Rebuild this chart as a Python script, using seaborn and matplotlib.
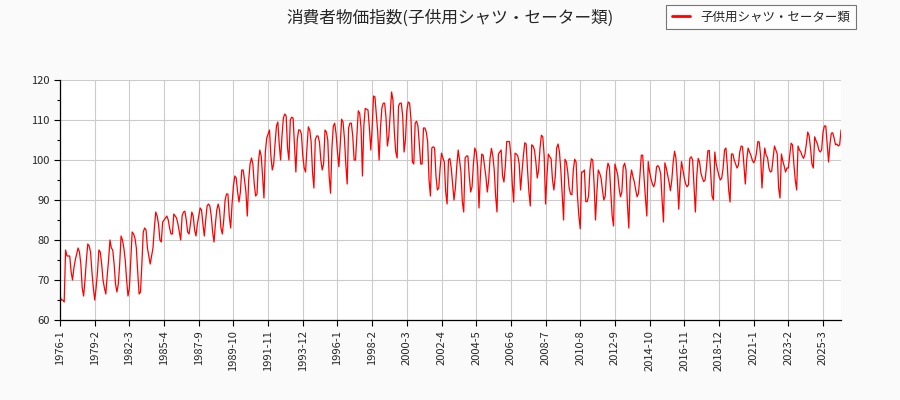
import numpy as np
import pandas as pd
import matplotlib
matplotlib.use("Agg")
import matplotlib.pyplot as plt
from matplotlib.ticker import MultipleLocator
import seaborn as sns

# values, by era (one value per data point)
vals_1976_1987 = [
    66, 65, 65, 64.5, 77.5, 76, 76, 76, 72, 70,
    73, 75, 76.5, 78, 77, 74, 68, 66, 70, 75,
    79, 78.5, 77, 72, 68, 65, 68, 72, 77.5, 77,
    74, 70, 68, 66.5, 71, 75, 80, 78, 77.5, 74,
    69, 67, 69, 74, 81, 80, 78, 75, 70, 66,
    68, 75, 82, 81.5, 80.5, 78, 72, 66.5, 67, 74,
    82, 83, 82.5, 78, 76, 74, 76, 78, 83, 87,
    86, 84, 80, 79.5, 84.5, 85, 85.5, 86, 85, 83,
    81.5, 81.5, 86.5, 86, 85.5, 84, 82, 80, 86, 87,
    87.2, 85, 82, 81.5, 84, 87, 86, 82.5, 81, 84,
]
vals_1987_1996 = [
    86, 88, 87.5, 84, 81, 85, 88.5, 89, 88.5, 86,
    82, 79.5, 84, 87.5, 89, 87.5, 83, 81.5, 85, 90,
    91.5, 91.5, 86, 83, 89, 93.5, 96, 95.5, 92, 89.5,
    92, 97.5, 97.5, 95, 92, 86, 95, 99, 100.5, 99,
    94, 91, 91.5, 99.5, 102.5, 101, 96, 90.5, 102, 105.5,
    106.5, 107.5, 101, 97.5, 99, 104, 108.5, 109.5, 104, 100,
    106, 110.5, 111.5, 111, 103, 100, 110, 110.7, 110.5, 104,
    97, 105, 107.5, 107.5, 106.5, 101, 98, 97, 103, 108.3,
    107.5, 104.6, 97, 93, 105, 106, 106, 104.5, 100, 97.5,
    99, 107.5, 107, 105, 96, 91.7, 103, 108.5, 109.2, 106.5,
]
vals_1996_2004 = [
    102, 98.3, 104, 110.2, 109.5, 105.5, 99, 94, 108, 109.2,
    109.2, 106, 100, 100, 106, 112.3, 111.7, 108, 96, 108.5,
    112.9, 112.7, 112.5, 108, 102.5, 108, 116, 115.8, 111.3, 107,
    100, 108, 113, 114.2, 114.2, 110.5, 103.5, 106, 111.7, 117,
    115, 107, 102, 100.5, 113.5, 114.2, 114.2, 111, 102, 105,
    112.5, 114.5, 114.2, 110, 99.5, 99, 109.2, 109.7, 108.5, 104,
    99, 99, 108, 108, 107, 104.6, 95, 91, 103, 103.3,
    103, 96, 92.5, 93, 98, 101.7, 100.5, 99.5, 92, 89,
    100, 100.4, 98, 94, 90, 93, 98.5, 102.5, 100, 97,
    89.6, 87, 100.5, 101, 101, 96, 92, 93.3, 99, 103,
]
vals_2004_2012 = [
    102, 98.5, 88, 96, 101.5, 101.2, 98.5, 95.8, 92, 95,
    100.5, 102.9, 101, 97.5, 91, 87, 101.5, 102, 102.5, 96,
    94.5, 98.5, 104.6, 104.6, 104.6, 101, 94, 89.5, 101.7, 101.5,
    101, 99, 92.5, 97, 101, 104.3, 104, 97.5, 92, 88.5,
    103.8, 103.5, 102.5, 99.5, 95.5, 97.5, 103, 106.2, 105.8, 101,
    89, 96, 101.5, 100.8, 100.3, 95, 92.5, 96, 103, 104,
    102, 97.5, 91, 85, 100.2, 99.5, 97, 93, 91.5, 91.3,
    97.5, 100.2, 99.5, 91, 86, 82.8, 97, 97, 97.5, 89.6,
    89.6, 91, 97.5, 100.3, 100, 94, 85, 92, 97.5, 96.7,
    95.5, 92.5, 90, 91, 97, 99.2, 98.3, 92, 86, 83.5,
]
vals_2012_2021 = [
    99, 97.7, 96.3, 93, 90.8, 92, 98.3, 99.2, 97.5, 89,
    83, 95, 97.5, 95.8, 94.5, 92.5, 90.8, 91.7, 96, 101.2,
    101.2, 95.5, 90.5, 86, 99.6, 97, 95.3, 94, 93.3, 94.6,
    98.3, 98.6, 98, 96.5, 90, 84.5, 99.3, 98, 96.2, 94.5,
    92.3, 95, 99.5, 102.2, 100.4, 95, 87.7, 95, 99.6, 97.5,
    95.5, 94, 93.3, 93.8, 100.4, 100.8, 100, 93.3, 87, 96,
    100.4, 99.5, 96.7, 95.5, 94.6, 95, 98.3, 102.3, 102.4, 97,
    91, 90, 102, 99, 97.5, 96, 95, 95.5, 98, 102.5,
    103, 98.5, 92.5, 89.5, 101.5, 101.5, 100, 99, 98, 98.7,
    102, 103.5, 103.3, 98.7, 94, 100, 103, 102, 101.2, 100,
]
vals_2021_2026 = [
    99.3, 100, 101.7, 104.6, 104.5, 101.2, 93, 99, 103, 101.2,
    100.6, 98, 97, 97.2, 100.4, 103.5, 102.5, 101.5, 93, 90.5,
    101.5, 99.8, 98.5, 97, 98, 98, 101, 104.2, 103.8, 99,
    95, 92.5, 103.5, 102.5, 102, 101, 100.4, 101.5, 104, 107,
    106, 103, 99, 98, 105.8, 104.8, 104, 102.5, 102, 102.5,
    107, 108.5, 108.5, 104, 99.5, 104, 106.7, 106.8, 105.5, 103.8,
    104, 103.5, 103.8, 107.5,
]

tick_labels = ["1976-1", "1979-2", "1982-3", "1985-4", "1987-9", "1989-10",
               "1991-11", "1993-12", "1996-1", "1998-2", "2000-3", "2002-4",
               "2004-5", "2006-6", "2008-7", "2010-8", "2012-9", "2014-10",
               "2016-11", "2018-12", "2021-1", "2023-2", "2025-3"]
tick_step = 25

series_name = "子供用シャツ・セーター類"
title = "消費者物価指数(子供用シャツ・セーター類)"

values = (vals_1976_1987 + vals_1987_1996 + vals_1996_2004
          + vals_2004_2012 + vals_2012_2021 + vals_2021_2026)
df = pd.DataFrame({"idx": np.arange(len(values)), "value": values})

sns.set_style("white")
plt.rcParams["font.family"] = ["Noto Sans CJK JP", "DejaVu Sans"]

fig = plt.figure(figsize=(9, 4), dpi=100, facecolor="#fafafa")
ax = fig.add_axes([0.0667, 0.2, 0.8678, 0.6])
ax.set_facecolor("white")

sns.lineplot(data=df, x="idx", y="value", color="red", linewidth=0.9,
             ax=ax, label=series_name, legend=False)

ax.set_xlim(0, len(values) - 1)
ax.set_ylim(60, 120)
ax.set_xticks(np.arange(len(tick_labels)) * tick_step)
ax.set_xticklabels(tick_labels, rotation=90, fontsize=8)
ax.yaxis.set_major_locator(MultipleLocator(10))
ax.yaxis.set_minor_locator(MultipleLocator(5))
ax.tick_params(axis="y", labelsize=8)
ax.tick_params(which="major", direction="out", length=4, width=0.8,
               left=True, bottom=True, color="black")
ax.tick_params(which="minor", direction="out", length=2, width=0.8,
               left=True, color="black")
ax.grid(True, which="major", color="#cccccc", linewidth=0.8)
ax.set_xlabel("")
ax.set_ylabel("")

for side in ["top", "right"]:
    ax.spines[side].set_visible(False)
for side in ["left", "bottom"]:
    ax.spines[side].set_color("black")
    ax.spines[side].set_linewidth(0.9)

fig.text(0.5, 0.955, title, ha="center", va="center", fontsize=12)
handles, labels = ax.get_legend_handles_labels()
leg = fig.legend(handles, labels, loc="upper right",
                 bbox_to_anchor=(0.951, 0.988), borderaxespad=0,
                 fontsize=9, frameon=True, fancybox=False,
                 edgecolor="#555555", handlelength=1.5, borderpad=0.45)
leg.get_frame().set_linewidth(0.8)
for line in leg.get_lines():
    line.set_linewidth(2)

plt.savefig("out.png", dpi=100, facecolor=fig.get_facecolor())
